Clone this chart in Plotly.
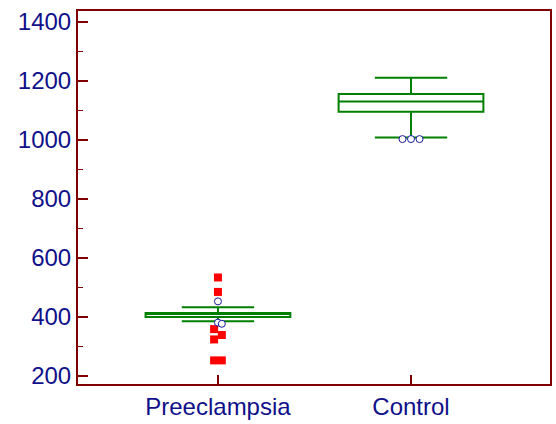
import plotly.graph_objects as go

categories = ["Preeclampsia", "Control"]
q1 = [400, 1096]
median = [412, 1130]
q3 = [414, 1156]
lower_whisker = [386, 1008]
upper_whisker = [433, 1211]

# outside values (open circles)
pre_outside = [453, 381, 377]
ctl_outside = [1003, 1003, 1003]
# far-out values (red squares)
pre_farout = [534, 485, 359, 339, 324, 253, 253]

# horizontal jitter (style only)
pre_outside_dx = [0.0, 0.0, 0.02]
ctl_outside_dx = [-0.044, 0.0, 0.044]
pre_farout_dx = [0.0, 0.0, -0.02, 0.02, -0.02, -0.02, 0.02]

green = "#008000"
axis_col = "#800000"
label_col = "#10108a"

fig = go.Figure()
for i, c in enumerate(categories):
    fig.add_trace(go.Box(
        x=[i], q1=[q1[i]], median=[median[i]], q3=[q3[i]],
        lowerfence=[lower_whisker[i]], upperfence=[upper_whisker[i]],
        width=0.75, whiskerwidth=0.5,
        line=dict(color=green, width=2), fillcolor="rgba(255,255,255,0)",
        boxpoints=False, showlegend=False, hoverinfo="skip",
    ))

fig.add_trace(go.Scatter(
    x=[0 + d for d in pre_farout_dx], y=pre_farout, mode="markers",
    marker=dict(symbol="square", size=8, color="#ff0000", line=dict(width=0)),
    showlegend=False))
fig.add_trace(go.Scatter(
    x=[0 + d for d in pre_outside_dx], y=pre_outside, mode="markers",
    marker=dict(symbol="circle", size=7, color="white", line=dict(color="#1a1a9a", width=1)),
    showlegend=False))
fig.add_trace(go.Scatter(
    x=[1 + d for d in ctl_outside_dx], y=ctl_outside, mode="markers",
    marker=dict(symbol="circle", size=7, color="white", line=dict(color="#1a1a9a", width=1)),
    showlegend=False))

fig.update_layout(
    width=556, height=424,
    margin=dict(l=78, r=6, t=11, b=40, autoexpand=False),
    paper_bgcolor="white", plot_bgcolor="white",
    font=dict(family="Liberation Sans, Arial, sans-serif", size=24, color=label_col),
    showlegend=False,
)
fig.update_xaxes(
    range=[-0.725, 1.72], tickvals=[0, 1], ticktext=categories,
    showgrid=False, zeroline=False, automargin=False,
    showline=True, linecolor=axis_col, linewidth=2, mirror=True,
    ticks="inside", ticklen=9, tickwidth=2, tickcolor=axis_col,
)
fig.update_yaxes(
    range=[173, 1437], tickvals=[200, 400, 600, 800, 1000, 1200, 1400],
    showgrid=False, zeroline=False, automargin=False,
    showline=True, linecolor=axis_col, linewidth=2, mirror=True,
    ticks="inside", ticklen=10, tickwidth=2, tickcolor=axis_col,
    minor=dict(dtick=100, tick0=100, ticks="inside", ticklen=5, tickwidth=1, tickcolor=axis_col),
)

fig.write_html("out.html", config={"displayModeBar": False},
               post_script="document.body.style.margin='0';document.body.style.overflow='hidden';")
